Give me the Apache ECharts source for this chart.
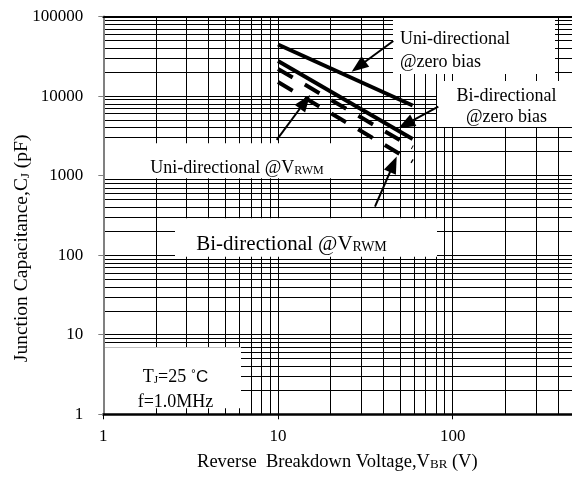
<!DOCTYPE html>
<html>
<head>
<meta charset="utf-8">
<script src="https://cdn.jsdelivr.net/npm/echarts@6/dist/echarts.min.js"></script>
<style>html,body{margin:0;padding:0;background:#fff;}#chart{width:572px;height:478px;}</style>
</head>
<body>
<div id="chart"></div>
<script>
// ---- data ----
const seriesNames = ['Uni-directional @zero bias', 'Bi-directional @zero bias', 'Uni-directional @VRWM', 'Bi-directional @VRWM'];
const vbr = [10, 59];
const uniZero = [44500, 7620];
const biZero = [27600, 2890];
const uniVrwm = [21900, 2254];
const biVrwm = [15000, 1503];
const xTickLabels = ['1', '10', '100'];
const yTickLabels = ['1', '10', '100', '1000', '10000', '100000'];
// arrow annotations [fromV, fromC, toV, toC] in data units (V, pF); "to" is the arrow tip
const arrowUniZero = [45.7, 49200, 26.4, 20250];
const arrowBiZero = [82.7, 7360, 48.8, 3940];
const arrowUniVrwm = [9.83, 2810, 15.25, 10330];
const arrowBiVrwm = [35.9, 408, 47.8, 1734];

const FONT = '"Liberation Serif","Times New Roman",serif';

// log grid values 1..9 per decade
const xGrid = [];
for (let d = 1; d <= 100; d *= 10) for (let k = 1; k <= 9; k++) xGrid.push(k * d);
xGrid.push(1000);
const yGrid = [];
for (let d = 1; d <= 10000; d *= 10) for (let k = 1; k <= 9; k++) yGrid.push(k * d);
yGrid.push(100000);

function pairs(xs, ys) { return xs.map((x, i) => [x, ys[i]]); }

const chart = echarts.init(document.getElementById('chart'), null, {renderer: 'canvas'});

const gridLeft = 103.3, gridTop = 16.5, decX = 174.7, decY = 79.56;

function renderArrow(params, api) {
  const p1 = api.coord([api.value(0), api.value(1)]);
  const p2 = api.coord([api.value(2), api.value(3)]);
  const dx = p2[0] - p1[0], dy = p2[1] - p1[1];
  const len = Math.sqrt(dx * dx + dy * dy);
  const ux = dx / len, uy = dy / len;
  const headLen = 17, halfW = 6.5;
  const bx = p2[0] - ux * headLen, by = p2[1] - uy * headLen;
  return {
    type: 'group',
    children: [
      {type: 'line', shape: {x1: p1[0], y1: p1[1], x2: bx + ux * 2, y2: by + uy * 2},
       style: {stroke: '#000', lineWidth: 2}},
      {type: 'polygon', shape: {points: [[p2[0], p2[1]], [bx - uy * halfW, by + ux * halfW], [bx + uy * halfW, by - ux * halfW]]},
       style: {fill: '#000'}}
    ]
  };
}

const option = {
  animation: false,
  backgroundColor: '#fff',
  grid: {left: gridLeft, top: gridTop, width: decX * 3, height: decY * 5, containLabel: false, outerBoundsMode: 'none'},
  xAxis: [{
    type: 'log', logBase: 10, min: 1, max: 1000, z: 5,
    axisLine: {show: true, lineStyle: {color: '#000', width: 2.5}},
    axisTick: {show: true, length: 5, lineStyle: {color: '#000', width: 1}},
    minorTick: {show: false},
    splitLine: {show: false},
    axisLabel: {
      margin: 14, color: '#000', fontFamily: FONT, fontSize: 17,
      formatter: v => { const s = String(Math.round(v)); return xTickLabels.indexOf(s) >= 0 ? s : ''; }
    },
    name: '{a|Reverse  Breakdown Voltage,V}{s|BR}{a| (V)}',
    nameLocation: 'middle', nameGap: 35, nameMoveOverlap: false,
    nameTextStyle: {
      padding: [0, 56, 0, 0],
      rich: {
        a: {fontFamily: FONT, fontSize: 18.5, color: '#000', lineHeight: 22, verticalAlign: 'bottom'},
        s: {fontFamily: FONT, fontSize: 13, color: '#000', lineHeight: 14, verticalAlign: 'bottom'}
      }
    }
  }, {
    type: 'log', logBase: 10, min: 1, max: 1000, position: 'top', z: 5,
    axisLine: {show: true, lineStyle: {color: '#000', width: 2}},
    axisTick: {show: false}, axisLabel: {show: false}, splitLine: {show: false}
  }],
  yAxis: {
    type: 'log', logBase: 10, min: 1, max: 100000, z: 5,
    axisLine: {show: true, lineStyle: {color: '#808080', width: 2}},
    axisTick: {show: true, length: 5, lineStyle: {color: '#808080', width: 1}},
    splitLine: {show: false},
    axisLabel: {
      margin: 20, color: '#000', fontFamily: FONT, fontSize: 17,
      formatter: v => { const s = String(Math.round(v)); return yTickLabels.indexOf(s) >= 0 ? s : ''; }
    },
    name: '{a|Junction Capacitance,C}{s|J}{a| (pF)}',
    nameLocation: 'middle', nameGap: 71, nameRotate: 90, nameMoveOverlap: false,
    nameTextStyle: {
      padding: [0, 66, 0, 0],
      rich: {
        a: {fontFamily: FONT, fontSize: 19.5, color: '#000', lineHeight: 23, verticalAlign: 'bottom'},
        s: {fontFamily: FONT, fontSize: 13, color: '#000', lineHeight: 15, verticalAlign: 'bottom'}
      }
    }
  },
  series: [
    {
      name: 'grid', type: 'line', data: [], z: 1, silent: true,
      markLine: {
        silent: true, symbol: ['none', 'none'], label: {show: false}, animation: false,
        lineStyle: {color: '#000', width: 1, type: 'solid'},
        emphasis: {disabled: true},
        data: xGrid.map(v => ({xAxis: v})).concat(yGrid.map(v => ({yAxis: v})))
      }
    },
    {
      name: seriesNames[0], type: 'line', data: pairs(vbr, uniZero), z: 6,
      showSymbol: false, symbol: 'none', lineStyle: {color: '#000', width: 4, type: 'solid', cap: 'butt'}
    },
    {
      name: seriesNames[1], type: 'line', data: pairs(vbr, biZero), z: 6,
      showSymbol: false, symbol: 'none', lineStyle: {color: '#000', width: 4, type: 'solid', cap: 'butt'}
    },
    {
      name: seriesNames[2], type: 'line', data: pairs(vbr, uniVrwm), z: 6,
      showSymbol: false, symbol: 'none', lineStyle: {color: '#000', width: 4, type: [17, 14], cap: 'butt'}
    },
    {
      name: seriesNames[3], type: 'line', data: pairs(vbr, biVrwm), z: 6,
      showSymbol: false, symbol: 'none', lineStyle: {color: '#000', width: 4, type: [17, 14], cap: 'butt'}
    },
    {
      name: 'arrows', type: 'custom', z: 12, silent: true,
      dimensions: ['x1', 'y1', 'x2', 'y2'],
      encode: {x: [0, 2], y: [1, 3]},
      data: [arrowUniZero, arrowBiZero, arrowUniVrwm, arrowBiVrwm],
      renderItem: renderArrow
    }
  ],
  graphic: [
    {type: 'rect', z: 10, shape: {x: 393, y: 18, width: 162, height: 56}, style: {fill: '#fff'}},
    {type: 'rect', z: 10, shape: {x: 437, y: 81, width: 140, height: 46}, style: {fill: '#fff'}},
    {type: 'rect', z: 10, shape: {x: 105, y: 143.3, width: 255, height: 35}, style: {fill: '#fff'}},
    {type: 'rect', z: 10, shape: {x: 175, y: 218.3, width: 262, height: 38.4}, style: {fill: '#fff'}},
    {type: 'rect', z: 10, shape: {x: 105, y: 347.3, width: 136, height: 61}, style: {fill: '#fff'}},
    {type: 'text', z: 11, x: 400, y: 51, style: {
      text: 'Uni-directional\n@zero bias', align: 'left', verticalAlign: 'middle',
      fontFamily: FONT, fontSize: 18, lineHeight: 23.3, fill: '#000'}},
    {type: 'text', z: 11, x: 506.5, y: 107, style: {
      text: 'Bi-directional\n@zero bias', align: 'center', verticalAlign: 'middle',
      fontFamily: FONT, fontSize: 18, lineHeight: 21, fill: '#000'}},
    {type: 'text', z: 11, x: 237, y: 166, style: {
      text: '{a|Uni-directional @V}{s|RWM}', align: 'center', verticalAlign: 'middle',
      rich: {
        a: {fontFamily: FONT, fontSize: 18, fill: '#000', lineHeight: 22, verticalAlign: 'bottom'},
        s: {fontFamily: FONT, fontSize: 12, fill: '#000', lineHeight: 14, verticalAlign: 'bottom'}
      }}},
    {type: 'text', z: 11, x: 291.5, y: 242, style: {
      text: '{a|Bi-directional @V}{s|RWM}', align: 'center', verticalAlign: 'middle',
      rich: {
        a: {fontFamily: FONT, fontSize: 21, fill: '#000', lineHeight: 25, verticalAlign: 'bottom'},
        s: {fontFamily: FONT, fontSize: 14, fill: '#000', lineHeight: 16, verticalAlign: 'bottom'}
      }}},
    {type: 'text', z: 11, x: 175.5, y: 386, style: {
      text: '{a|T}{s|J}{a|=25 }{d|˚}{c|C}\n{a|f=1.0MHz}', align: 'center', verticalAlign: 'middle',
      rich: {
        a: {fontFamily: FONT, fontSize: 18, fill: '#000', lineHeight: 25, verticalAlign: 'bottom'},
        s: {fontFamily: FONT, fontSize: 11, fill: '#000', lineHeight: 13, verticalAlign: 'bottom'},
        d: {fontFamily: FONT, fontSize: 16, fill: '#000', lineHeight: 25, verticalAlign: 'bottom'},
        c: {fontFamily: '"Liberation Sans",Arial,sans-serif', fontSize: 17, fill: '#000', lineHeight: 25, verticalAlign: 'bottom'}
      }}}
  ]
};
chart.setOption(option);
</script>
</body>
</html>
